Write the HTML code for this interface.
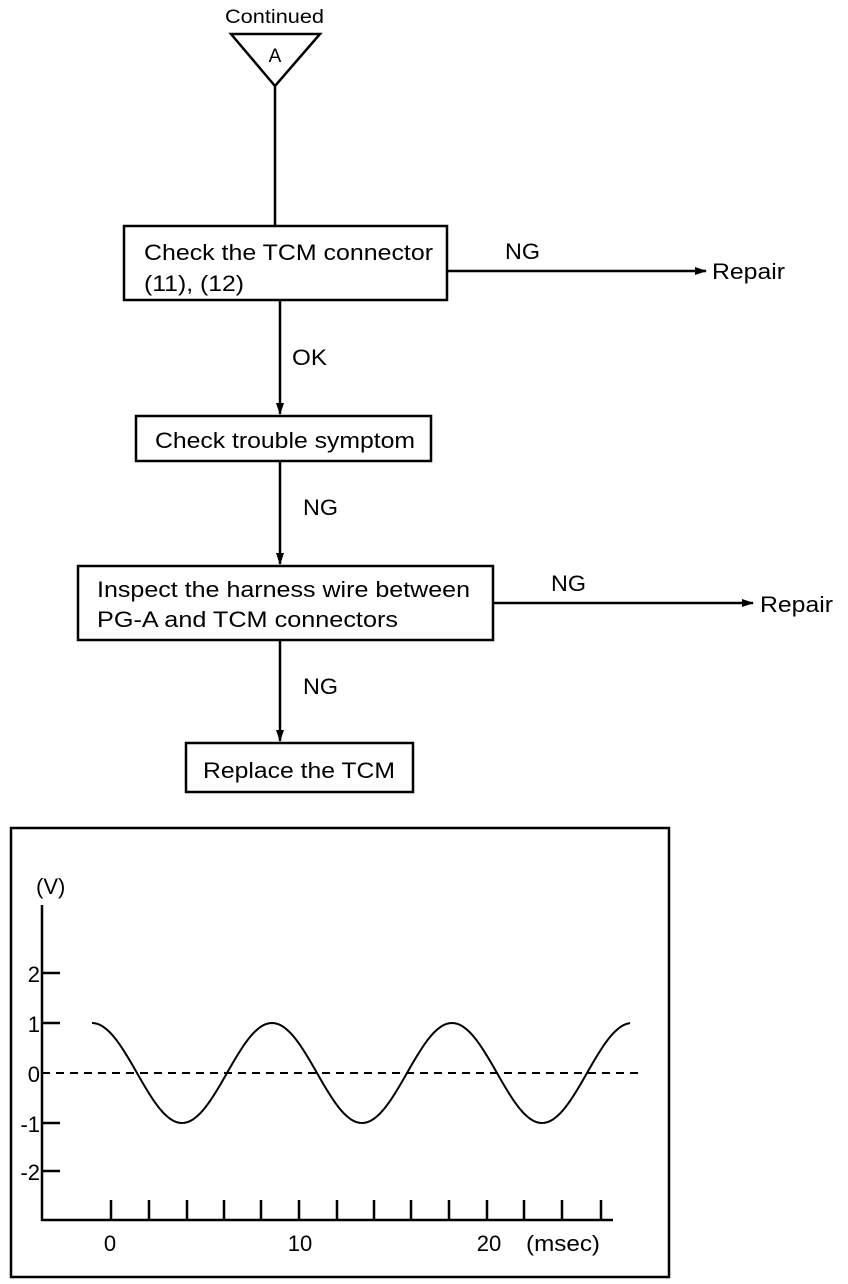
<!DOCTYPE html>
<html><head><meta charset="utf-8"><style>
html,body{margin:0;padding:0;background:#fff;}
svg{display:block;}
text{font-family:"Liberation Sans",Arial,sans-serif;fill:#000;}
</style></head><body>
<svg width="848" height="1284" viewBox="0 0 848 1284" xmlns="http://www.w3.org/2000/svg">
<defs><marker id="ar" markerWidth="12" markerHeight="8" refX="11" refY="4" orient="auto" markerUnits="userSpaceOnUse"><path d="M0,0 L12,4 L0,8 Z" fill="#000"/></marker></defs>
<g stroke="#000" stroke-width="2.5" fill="none">
<path d="M231,34 L320,34 L275,86 Z"/>
<line x1="275" y1="86" x2="275" y2="225"/>
<rect x="124" y="226" width="323" height="74"/>
<line x1="447" y1="271" x2="706" y2="271" marker-end="url(#ar)"/>
<line x1="280" y1="300" x2="280" y2="414" marker-end="url(#ar)"/>
<rect x="136" y="416" width="295" height="45"/>
<line x1="280" y1="461" x2="280" y2="564" marker-end="url(#ar)"/>
<rect x="78" y="566" width="415" height="74"/>
<line x1="493" y1="603" x2="753" y2="603" marker-end="url(#ar)"/>
<line x1="280" y1="640" x2="280" y2="741" marker-end="url(#ar)"/>
<rect x="186" y="743" width="227" height="49"/>
<rect x="11" y="828" width="658" height="449"/>
<line x1="42" y1="905" x2="42" y2="1221"/>
<line x1="42" y1="1220" x2="613" y2="1220"/>
<line x1="42" y1="973" x2="60" y2="973"/>
<line x1="42" y1="1023" x2="60" y2="1023"/>
<line x1="42" y1="1123" x2="60" y2="1123"/>
<line x1="42" y1="1171" x2="60" y2="1171"/>
<path d="M111,1200V1220M149,1200V1220M187,1200V1220M224,1200V1220M261,1200V1220M299,1200V1220M337,1200V1220M374,1200V1220M411,1200V1220M449,1200V1220M487,1200V1220M524,1200V1220M562,1200V1220M601,1200V1220"/>
<line x1="42" y1="1073" x2="640" y2="1073" stroke-dasharray="8,6" stroke-width="2"/>
<path id="w" stroke-width="2" d=""/>
</g>
<script>
var d="";for(var x=92;x<=630;x+=2){var y=1073-50*Math.cos(2*Math.PI*(x-92)/180);d+=(x==92?"M":"L")+x+","+y.toFixed(1);}document.getElementById("w").setAttribute("d",d);
</script>
<text x="225" y="23" font-size="19" textLength="99" lengthAdjust="spacingAndGlyphs">Continued</text>
<text x="275" y="62" font-size="19" text-anchor="middle">A</text>
<g font-size="22">
<text x="144" y="260" textLength="289" lengthAdjust="spacingAndGlyphs">Check the TCM connector</text>
<text x="144" y="291" textLength="100" lengthAdjust="spacingAndGlyphs">(11), (12)</text>
<text x="505" y="259" textLength="35" lengthAdjust="spacingAndGlyphs">NG</text>
<text x="712" y="279" textLength="73" lengthAdjust="spacingAndGlyphs">Repair</text>
<text x="292" y="365" textLength="35" lengthAdjust="spacingAndGlyphs">OK</text>
<text x="155" y="448" textLength="260" lengthAdjust="spacingAndGlyphs">Check trouble symptom</text>
<text x="303" y="515" textLength="35" lengthAdjust="spacingAndGlyphs">NG</text>
<text x="97" y="597" textLength="373" lengthAdjust="spacingAndGlyphs">Inspect the harness wire between</text>
<text x="97" y="627" textLength="301" lengthAdjust="spacingAndGlyphs">PG-A and TCM connectors</text>
<text x="551" y="591" textLength="35" lengthAdjust="spacingAndGlyphs">NG</text>
<text x="760" y="612" textLength="73" lengthAdjust="spacingAndGlyphs">Repair</text>
<text x="303" y="694" textLength="35" lengthAdjust="spacingAndGlyphs">NG</text>
<text x="203" y="778" textLength="192" lengthAdjust="spacingAndGlyphs">Replace the TCM</text>
<text x="36" y="894">(V)</text>
<text x="40" y="982" text-anchor="end">2</text>
<text x="40" y="1032" text-anchor="end">1</text>
<text x="40" y="1082" text-anchor="end">0</text>
<text x="40" y="1132" text-anchor="end">-1</text>
<text x="40" y="1180" text-anchor="end">-2</text>
<text x="110" y="1251" text-anchor="middle">0</text>
<text x="300" y="1251" text-anchor="middle">10</text>
<text x="489" y="1251" text-anchor="middle">20</text>
<text x="526" y="1251" textLength="74" lengthAdjust="spacingAndGlyphs">(msec)</text>
</g>
</svg>
</body></html>
